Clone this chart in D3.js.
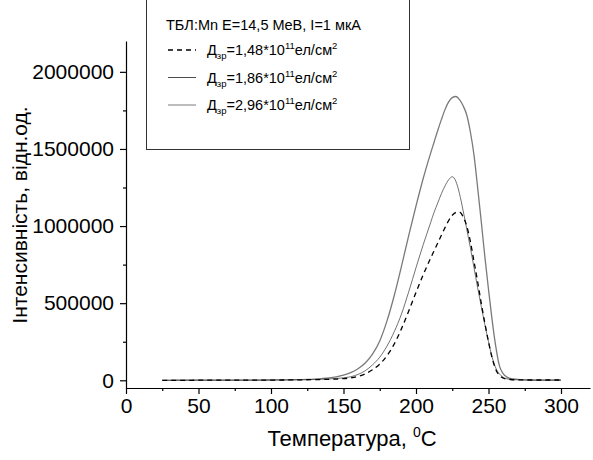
<!DOCTYPE html>
<html>
<head>
<meta charset="utf-8">
<script src="https://cdn.jsdelivr.net/npm/d3@7"></script>
<style>
  body { margin: 0; background: #fff; }
  text { font-family: "Liberation Sans", Arial, sans-serif; }
</style>
</head>
<body>
<div id="chart"></div>
<script>
var temps = [25, 30, 35, 40, 45, 50, 55, 60, 65, 70, 75, 80, 85, 90, 95, 100, 105, 110, 115, 120,
  125, 130, 135, 140, 145, 150, 155, 160, 165, 170, 175, 180, 185, 190, 195, 200, 205,
  210, 212.5, 215, 217.5, 220, 222.5, 225, 227.5, 230, 232.5, 235, 237.5, 240, 242.5, 245,
  247.5, 250, 252.5, 255, 257.5, 260, 262.5, 265, 270, 275, 280, 285, 290, 295, 300];

var dose148 = [0, 0, 0, 0, 0, 500, 500, 500, 500, 500, 500, 500, 1000, 1000, 1000, 1000, 1500, 2000, 2500, 3000,
  3500, 4000, 5000, 6000, 8000, 11000, 16000, 25000, 42000, 68000, 105000, 160000, 235000, 335000, 450000, 570000, 685000,
  790000, 840000, 890000, 940000, 990000, 1035000, 1070000, 1088000, 1090000, 1060000, 1000000, 900000, 770000, 640000, 500000,
  370000, 250000, 145000, 70000, 32000, 15000, 8000, 5000, 3000, 2000, 2000, 2000, 2000, 2000, 2000];

var dose186 = [0, 0, 0, 500, 500, 500, 500, 500, 500, 1000, 1000, 1000, 1000, 1000, 1500, 1500, 2000, 2500, 3000, 3500,
  4500, 5500, 7000, 9000, 12000, 16000, 23000, 38000, 62000, 100000, 150000, 222000, 315000, 430000, 575000, 730000, 880000,
  1020000, 1090000, 1150000, 1210000, 1260000, 1300000, 1320000, 1290000, 1210000, 1100000, 980000, 860000, 730000, 600000, 480000,
  360000, 250000, 150000, 80000, 42000, 20000, 10000, 6000, 3000, 2000, 1000, 1000, 1000, 1000, 1000];

var dose296 = [0, 0, 500, 500, 500, 500, 500, 500, 500, 1000, 1000, 1000, 1000, 1500, 1500, 2000, 2500, 3000, 3500, 4500,
  6000, 8000, 11000, 15000, 22000, 33000, 50000, 75000, 112000, 170000, 255000, 385000, 550000, 740000, 940000, 1130000, 1310000,
  1470000, 1545000, 1620000, 1690000, 1755000, 1805000, 1833000, 1840000, 1820000, 1780000, 1720000, 1610000, 1460000, 1250000, 1030000,
  800000, 590000, 390000, 220000, 95000, 45000, 22000, 12000, 6000, 3000, 2000, 1500, 1000, 1000, 1000];

var xTicks = [0, 50, 100, 150, 200, 250, 300];
var xMinorTicks = [25, 75, 125, 175, 225, 275];
var yTicks = [0, 500000, 1000000, 1500000, 2000000];
var yMinorTicks = [250000, 750000, 1250000, 1750000];

var legendTitle = "ТБЛ:Mn E=14,5 MeB, I=1 мкА";
var legendDoses = ["1,48", "1,86", "2,96"];

var width = 593,
  height = 460;

var svg = d3.select("#chart")
  .append("svg")
  .attr("width", width)
  .attr("height", height);

var x = d3.scaleLinear().domain([0, 320]).range([126, 590]);
var y = d3.scaleLinear().domain([-50000, 2200000]).range([388, 41]);

// legend box first, behind everything
var legend = svg.append("g");
legend.append("rect")
  .attr("x", 146.5)
  .attr("y", -5)
  .attr("width", 263)
  .attr("height", 154.5)
  .attr("fill", "#fff")
  .attr("stroke", "#333")
  .attr("stroke-width", 1);

legend.append("text")
  .attr("x", 166)
  .attr("y", 30)
  .attr("font-size", "14.5px")
  .attr("fill", "#000")
  .text(legendTitle);

var series = [
  { name: legendDoses[0], values: dose148, color: "#000", width: 1.3, dash: "5,4" },
  { name: legendDoses[1], values: dose186, color: "#4d4d4d", width: 0.8, dash: null },
  { name: legendDoses[2], values: dose296, color: "#7a7a7a", width: 1.3, dash: null }
];

series.forEach(function (s, i) {
  var ly = 50 + i * 27.5;
  legend.append("line")
    .attr("x1", 168).attr("x2", 196)
    .attr("y1", ly).attr("y2", ly)
    .attr("stroke", s.color)
    .attr("stroke-width", s.dash ? 1.3 : 1)
    .attr("stroke-dasharray", s.dash);

  var t = legend.append("text")
    .attr("x", 207)
    .attr("y", ly + 5)
    .attr("font-size", "14.5px")
    .attr("fill", "#000");
  t.append("tspan").text("Д");
  t.append("tspan").attr("font-size", "9.5px").attr("dy", 4).text("зр");
  t.append("tspan").attr("dy", -4).text("=" + s.name + "*10");
  t.append("tspan").attr("font-size", "9.5px").attr("dy", -6).text("11");
  t.append("tspan").attr("dy", 6).text("ел/см");
  t.append("tspan").attr("font-size", "9.5px").attr("dy", -6).text("2");
});

// curves
var line = d3.line()
  .x(function (d) { return x(d[0]); })
  .y(function (d) { return y(d[1]); })
  .curve(d3.curveMonotoneX);

series.slice().reverse().forEach(function (s) {
  svg.append("path")
    .datum(temps.map(function (t, i) { return [t, s.values[i]]; }))
    .attr("fill", "none")
    .attr("stroke", s.color)
    .attr("stroke-width", s.width)
    .attr("stroke-dasharray", s.dash)
    .attr("d", line);
});

// axes
svg.append("g")
  .attr("transform", "translate(0," + 388 + ")")
  .call(d3.axisBottom(x).tickValues(xTicks).tickSize(6).tickSizeOuter(0).tickPadding(4));

svg.append("g")
  .attr("transform", "translate(0," + 388 + ")")
  .call(d3.axisBottom(x).tickValues(xMinorTicks).tickSize(3).tickFormat(""))
  .select(".domain").remove();

svg.append("g")
  .attr("transform", "translate(" + 126 + ",0)")
  .call(d3.axisLeft(y).tickValues(yTicks).tickSize(6).tickSizeOuter(0).tickPadding(6)
    .tickFormat(function (d) { return d; }));

svg.append("g")
  .attr("transform", "translate(" + 126 + ",0)")
  .call(d3.axisLeft(y).tickValues(yMinorTicks).tickSize(3).tickFormat(""))
  .select(".domain").remove();

svg.selectAll(".tick text")
  .attr("font-family", "Liberation Sans, Arial, sans-serif")
  .attr("font-size", "21px")
  .attr("fill", "#000");

svg.selectAll(".domain, .tick line")
  .attr("stroke", "#000")
  .attr("stroke-width", 1.2);

// axis titles
var xt = svg.append("text")
  .attr("x", 352)
  .attr("y", 446)
  .attr("text-anchor", "middle")
  .attr("font-size", "22px")
  .attr("fill", "#000");
xt.append("tspan").text("Температура, ");
xt.append("tspan").attr("font-size", "14px").attr("dy", -9).text("0");
xt.append("tspan").attr("dy", 9).text("C");

svg.append("text")
  .attr("transform", "translate(27,215) rotate(-90)")
  .attr("text-anchor", "middle")
  .attr("font-size", "21px")
  .attr("fill", "#000")
  .text("Інтенсивність, відн.од.");
</script>
</body>
</html>
